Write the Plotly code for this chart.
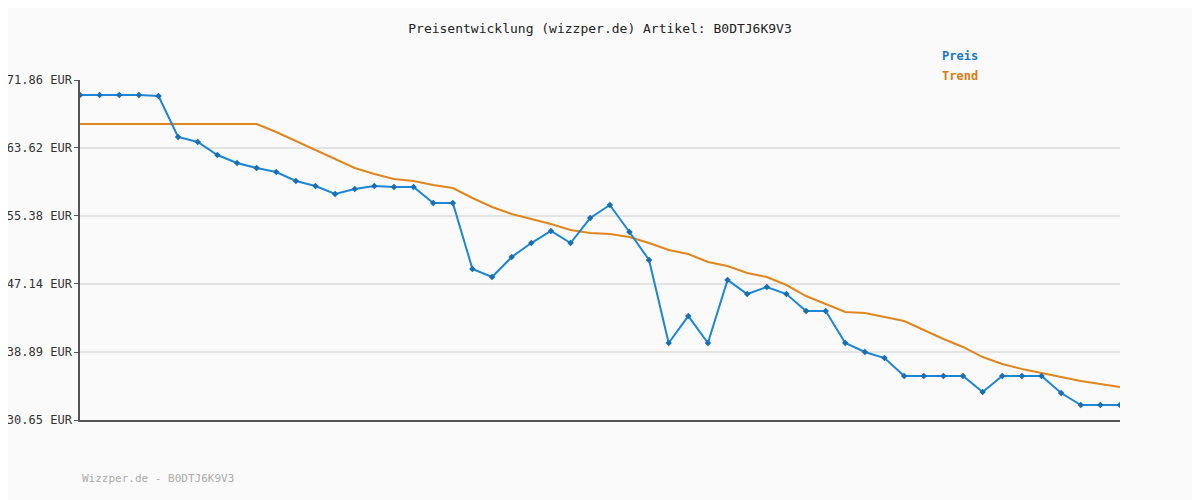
import plotly.graph_objects as go

idx = list(range(54))
preis = [70.04,70.04,70.04,70.04,69.92,64.95,64.35,62.77,61.80,61.19,60.71,59.62,59.01,58.04,58.65,59.01,58.89,58.89,56.95,56.95,
         48.95,47.98,50.41,52.10,53.56,52.10,55.13,56.71,53.44,50.04,39.98,43.25,39.98,47.62,45.92,46.77,45.92,43.86,43.86,39.98,
         38.89,38.16,35.98,35.98,35.98,35.98,34.04,35.98,35.98,35.98,33.92,32.47,32.47,32.47]
trend = [66.53]*10 + [65.56,64.47,63.38,62.28,61.19,60.47,59.86,59.62,59.13,58.77,57.56,56.47,55.62,55.01,54.41,53.68,53.32,53.19,52.83,52.10,
         51.25,50.77,49.80,49.32,48.47,47.98,47.01,45.68,44.71,43.74,43.62,43.13,42.65,41.56,40.47,39.50,38.28,37.44,36.83,36.35,
         35.86,35.38,35.01,34.65]
yticks = [30.65,38.89,47.14,55.38,63.62,71.86]
ytext = ["30.65 EUR","38.89 EUR","47.14 EUR","55.38 EUR","63.62 EUR","71.86 EUR"]

fig = go.Figure()
fig.add_trace(go.Scatter(x=idx, y=trend, mode="lines", line=dict(color="#e0861e", width=2), name="Trend"))
fig.add_trace(go.Scatter(x=idx, y=preis, mode="lines+markers", line=dict(color="#1b86d6", width=2),
                         marker=dict(symbol="diamond", size=5, color="#1b6fb0"), name="Preis"))
fig.update_layout(
    width=1200, height=500, margin=dict(l=72, r=88, t=72, b=88, autoexpand=False),
    paper_bgcolor="#fafafa", plot_bgcolor="#fafafa", showlegend=False,
    font=dict(family="DejaVu Sans Mono", size=12, color="#333"),
    title=dict(text="Preisentwicklung (wizzper.de) Artikel: B0DTJ6K9V3", x=(600-8)/1200, y=1-(28-8)/500,
               xanchor="center", yanchor="middle", font=dict(size=13, color="#222")),
    xaxis=dict(range=[0, 53], showgrid=False, showticklabels=False, zeroline=False, automargin=False,
               showline=True, linecolor="#555", linewidth=1.5),
    yaxis=dict(range=[30.65, 71.86], tickvals=yticks, ticktext=ytext, showgrid=True, gridcolor="#e3e3e3",
               gridwidth=2, zeroline=False, showline=True, linecolor="#555", linewidth=1.5, automargin=False,
               ticks="outside", ticklen=4, tickcolor="#555", tickfont=dict(size=12, color="#333")),
)
fig.add_annotation(text="<b>Preis</b>", xref="paper", yref="paper", x=(940-80)/1040, y=(420-47)/340,
                   showarrow=False, font=dict(color="#1b77c0", size=12), xanchor="left")
fig.add_annotation(text="<b>Trend</b>", xref="paper", yref="paper", x=(940-80)/1040, y=(420-67)/340,
                   showarrow=False, font=dict(color="#d97b10", size=12), xanchor="left")
fig.add_annotation(text="Wizzper.de - B0DTJ6K9V3", xref="paper", yref="paper", x=0, y=(420-487)/340,
                   showarrow=False, xanchor="left", font=dict(color="#aaa", size=11))
fig.write_html("out.html")
